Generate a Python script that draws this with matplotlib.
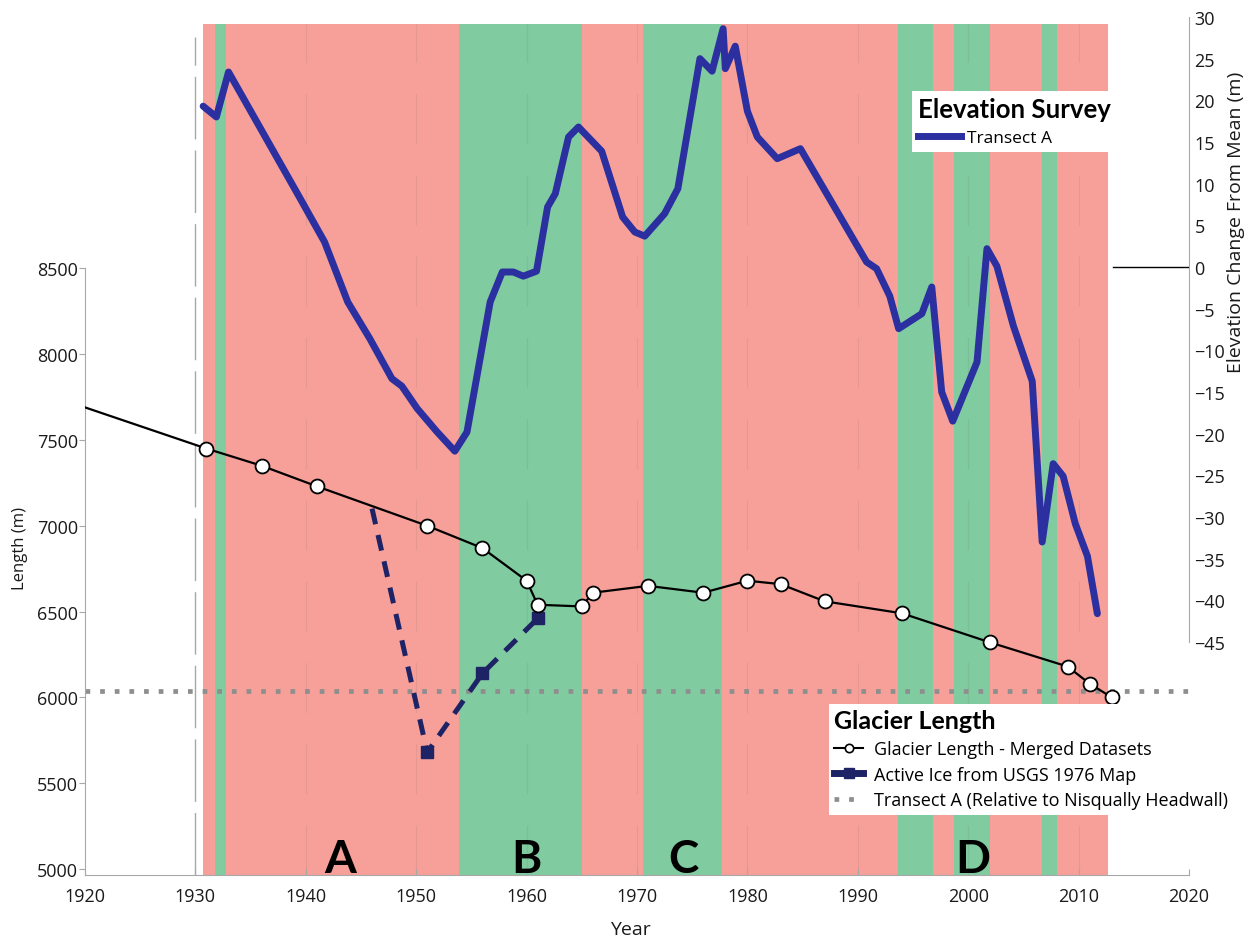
import matplotlib
matplotlib.use('Agg')
import matplotlib.pyplot as plt
from matplotlib.lines import Line2D

plt.rcParams['font.family'] = ['Open Sans', 'DejaVu Sans']

# ---------------- data ----------------
# Glacier length, merged datasets (left axis, m); 1920 value is the line start (no marker)
length_years = [1920, 1931, 1936, 1941, 1951, 1956, 1960, 1961, 1965, 1966, 1971,
                1976, 1980, 1983, 1987, 1994, 2002, 2009, 2011, 2013]
length_m = [7690, 7450, 7350, 7230, 7000, 6870, 6680, 6540, 6530, 6610, 6650,
            6610, 6680, 6660, 6560, 6490, 6320, 6180, 6080, 6000]

# Active ice from USGS 1976 map (left axis, m); 1946 value is the branch point (no marker)
ice_years = [1946, 1951, 1956, 1961]
ice_m = [7100, 5680, 6140, 6460]

# Transect A relative to Nisqually headwall (left axis, m)
transect_level = 6035

# Elevation survey, transect A (right axis, m change from mean)
elev_years = [1930.7, 1931.9, 1933.0, 1939.5, 1941.7, 1943.8, 1945.8, 1947.8, 1948.7,
              1950.1, 1951.9, 1953.5, 1954.6, 1956.7, 1957.8, 1958.8, 1959.7, 1960.9,
              1961.9, 1962.6, 1963.8, 1964.7, 1966.8, 1968.7, 1969.8, 1970.7, 1972.5,
              1973.7, 1975.7, 1976.8, 1977.8, 1978.0, 1978.9, 1980.0, 1980.9, 1982.7,
              1984.8, 1990.8, 1991.7, 1992.9, 1993.7, 1995.8, 1996.7, 1997.6, 1998.6,
              2000.8, 2001.7, 2002.6, 2004.1, 2005.8, 2006.7, 2007.7, 2008.6, 2009.7,
              2010.8, 2011.7]
elev_change = [19.3, 18.0, 23.4, 8.2, 3.0, -4.2, -8.6, -13.4, -14.3,
               -17.0, -19.8, -22.1, -19.8, -4.2, -0.6, -0.6, -1.1, -0.5,
               7.2, 8.8, 15.6, 16.8, 13.9, 6.0, 4.2, 3.7, 6.4,
               9.4, 25.0, 23.5, 28.6, 23.8, 26.5, 18.7, 15.6, 13.0,
               14.2, 0.6, -0.2, -3.5, -7.4, -5.6, -2.4, -15.0, -18.5,
               -11.4, 2.2, 0.1, -7.1, -13.7, -33.0, -23.6, -25.1, -30.8,
               -34.7, -41.6]

# Climate phase background bands (years)
band_start, band_end = 1930.7, 2012.7
green_bands = [(1931.8, 1932.8), (1953.9, 1965.0), (1970.5, 1977.7),
               (1993.6, 1996.8), (1998.7, 2002.0), (2006.7, 2008.0)]

period_labels = ['A', 'B', 'C', 'D']
period_x = [1943.1, 1960.0, 1974.2, 2000.4]

x_ticks = list(range(1920, 2021, 10))
left_ticks = list(range(5000, 8501, 500))
right_ticks = list(range(-45, 31, 5))

# ---------------- style ----------------
RED = '#F6A099'
GREEN = '#80CB9F'
BLUE = '#2B2F9F'
NAVY = '#1E2366'
GRAY_AX = '#A8A8A8'
TXT = '#1a1a1a'

W, H = 1249, 945
fig = plt.figure(figsize=(W / 100, H / 100), dpi=100)
ax = fig.add_axes([85 / W, 1 - 876 / H, 1104 / W, 858 / H])
ax2 = ax.twinx()

ax.set_xlim(1920, 2020)
ax.set_ylim(4965, 9965)
ax2.set_ylim(-72.96, 30.0)

band_top = (876 - 25) / 858
ax.axvspan(band_start, band_end, ymin=0, ymax=band_top, color=RED, lw=0, zorder=0)
for g0, g1 in green_bands:
    ax.axvspan(g0, g1, ymin=0, ymax=band_top, color=GREEN, lw=0, zorder=0.5)

# faint decade lines inside the bands
for xv in range(1940, 2011, 10):
    ax.axvline(xv, ymin=0, ymax=band_top, color='#555555', alpha=0.10, lw=0.9,
               dashes=(40, 25), zorder=0.8)
# dashed grey line at 1930
ax.axvline(1930, ymin=0, ymax=(876 - 38) / 858, color='#a8a8a8', lw=1.0,
           dashes=(45, 8), zorder=0.9)

# transect A dotted level
ax.axhline(transect_level, color='#8E8E8E', lw=3.4, dashes=(1, 2.1), zorder=2)

# glacier length
ax.plot(length_years, length_m, color='black', lw=1.6, marker='o', ms=10,
        mfc='white', mec='black', mew=1.3, markevery=list(range(1, len(length_years))),
        zorder=4)

# active ice
ax.plot(ice_years, ice_m, color=NAVY, lw=3.6, dashes=(3.2, 2.2), marker='s', ms=9,
        mfc=NAVY, mec=NAVY, markevery=[1, 2, 3], zorder=3)

# elevation survey on right axis
ax2.plot(elev_years, elev_change, color=BLUE, lw=5, solid_joinstyle='round',
         solid_capstyle='round', zorder=3)
ax2.plot([2013.1, 2020], [0, 0], color='black', lw=1.0, zorder=3)

# period letters
for lab, xv in zip(period_labels, period_x):
    ax.text(xv, 4985, lab, ha='center', va='baseline', fontsize=33,
            fontweight='bold', family=['Lato', 'DejaVu Sans'], color='black', zorder=5)

# ---------------- axes styling ----------------
for s in ['top', 'right']:
    ax.spines[s].set_visible(False)
ax.spines['left'].set_color(GRAY_AX)
ax.spines['bottom'].set_color(GRAY_AX)
ax.spines['left'].set_bounds(4965, 8500)
ax.set_xticks(x_ticks)
ax.set_yticks(left_ticks)
ax.tick_params(axis='x', direction='in', length=4, color=GRAY_AX, pad=9,
               labelsize=13, labelcolor=TXT)
ax.tick_params(axis='y', direction='out', length=4, color=GRAY_AX, pad=1,
               labelsize=13, labelcolor=TXT)

for s in ['top', 'left', 'bottom']:
    ax2.spines[s].set_visible(False)
ax2.spines['right'].set_color(GRAY_AX)
ax2.spines['right'].set_bounds(-45, 30)
ax2.set_yticks(right_ticks)
ax2.tick_params(axis='y', length=0, pad=4, labelsize=13, labelcolor=TXT)

fig.text(20 / W, 1 - 548 / H, 'Length (m)', rotation=90, ha='center', va='center',
         fontsize=12, color=TXT)
fig.text(1236 / W, 1 - 222 / H, 'Elevation Change From Mean (m)', rotation=90,
         ha='center', va='center', fontsize=14, color=TXT)
fig.text(630 / W, 1 - 930 / H, 'Year', ha='center', va='center', fontsize=14, color=TXT)

# ---------------- legends ----------------
h_elev = Line2D([], [], color=BLUE, lw=5)
leg1 = ax2.legend([h_elev], ['Transect A'], loc='upper left',
                  bbox_to_anchor=(912 / W, 1 - 92 / H), bbox_transform=fig.transFigure,
                  title='Elevation Survey', alignment='left', fontsize=12.5,
                  title_fontproperties={'family': ['Lato', 'DejaVu Sans'],
                                        'weight': 'bold', 'size': 18.5},
                  frameon=True, fancybox=False, facecolor='white', edgecolor='none',
                  framealpha=1, handlelength=2.5, handletextpad=0.3, borderpad=0.35,
                  borderaxespad=0)
leg1.set_zorder(10)
ax2.add_artist(leg1)

h_len = Line2D([], [], color='black', lw=1.5, marker='o', ms=6, mfc='white',
               mec='black', mew=1.2)
h_ice = Line2D([], [], color=NAVY, lw=5, marker='s', ms=7, mfc=NAVY, mec=NAVY)
h_tr = Line2D([], [], color='#8E8E8E', lw=3.4, dashes=(1, 2.1))
leg2 = ax2.legend([h_len, h_ice, h_tr],
                  ['Glacier Length - Merged Datasets', 'Active Ice from USGS 1976 Map',
                   'Transect A (Relative to Nisqually Headwall)'],
                  loc='upper left', bbox_to_anchor=(829 / W, 1 - 705 / H),
                  bbox_transform=fig.transFigure, title='Glacier Length',
                  alignment='left', fontsize=13,
                  title_fontproperties={'family': ['Lato', 'DejaVu Sans'],
                                        'weight': 'bold', 'size': 18},
                  frameon=True, fancybox=False, facecolor='white', edgecolor='none',
                  framealpha=1, handlelength=1.6, handletextpad=0.6, borderpad=0.3,
                  labelspacing=0.42, borderaxespad=0)
leg2.set_zorder(10)

fig.savefig('out.png', dpi=100)
